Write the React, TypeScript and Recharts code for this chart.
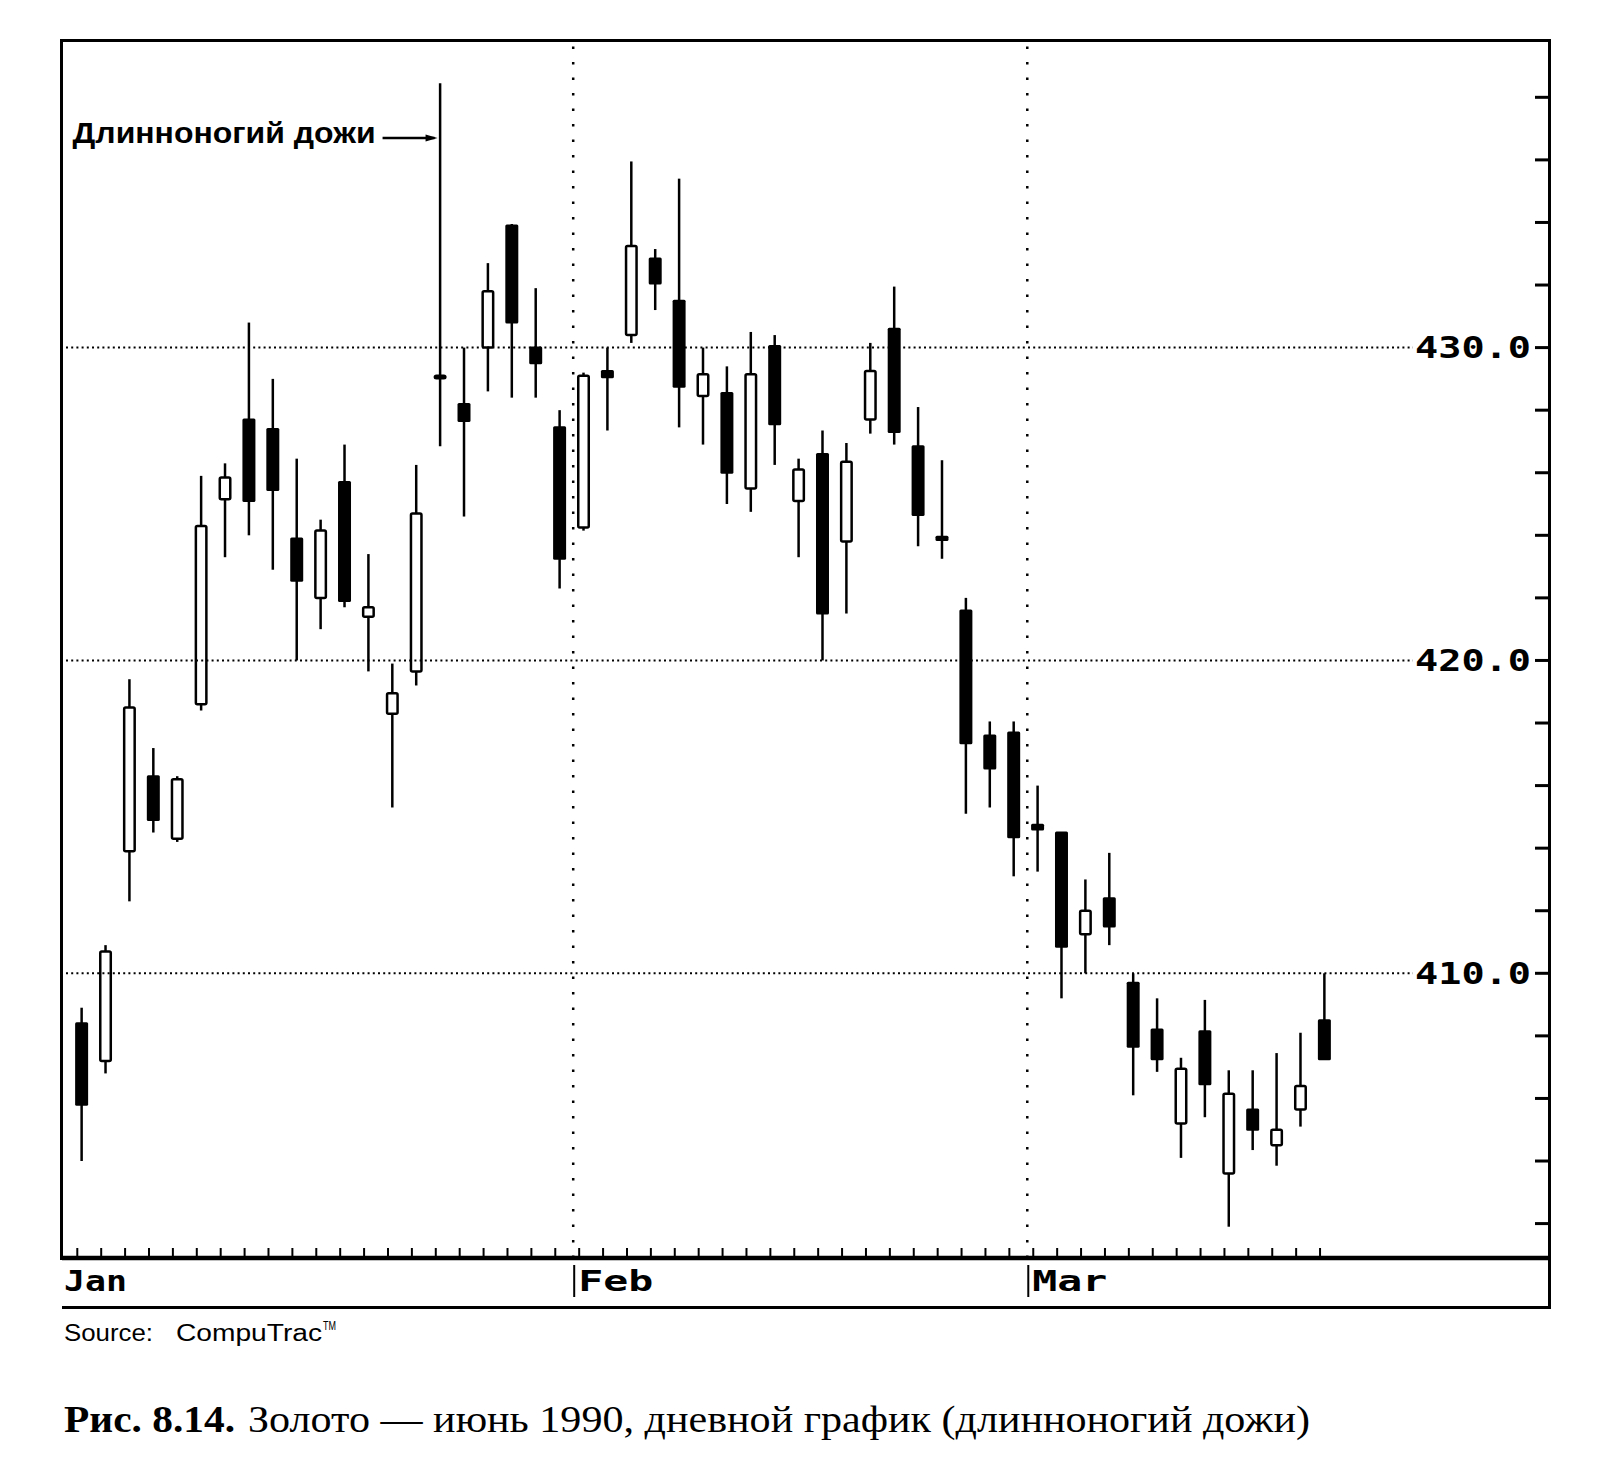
import React from 'react';
import { ComposedChart, Bar, XAxis, YAxis, ReferenceLine, ReferenceDot } from 'recharts';

// Gold, June 1990 futures, daily candles Jan 2 .. Mar 19
const OPEN = [
  408.4, 407.2, 413.9, 416.3, 414.3, 418.6, 425.15, 427.7, 427.4, 423.9,
  422.0, 425.7, 421.4, 418.3, 419.65, 429.05, 428.2, 430.0, 433.9, 430.0,
  427.45, 424.25, 429.25, 430.4, 432.85, 431.5, 428.45, 428.55, 425.5, 430.05,
  425.1, 426.6, 423.8, 427.7, 430.6, 426.85, 423.95, 421.6, 417.6, 417.7,
  414.75, 414.5, 411.25, 412.4, 409.7, 408.2, 405.2, 408.15, 403.6, 405.65,
  404.5, 405.65, 408.5,
];
const HIGH = [
  408.9, 410.9, 419.4, 417.2, 416.3, 425.9, 426.3, 430.8, 429.0, 426.45,
  424.5, 426.9, 423.4, 419.9, 426.25, 438.45, 430.0, 432.7, 433.95, 431.9,
  428.0, 429.2, 430.0, 435.95, 433.15, 435.4, 430.0, 429.4, 430.5, 430.4,
  426.45, 427.35, 426.95, 430.15, 431.95, 428.1, 426.4, 422.0, 418.05, 418.05,
  416.0, 414.5, 413.0, 413.85, 410.0, 409.2, 407.3, 409.15, 406.9, 406.9,
  407.45, 408.1, 410.0,
];
const LOW = [
  404.0, 406.8, 412.3, 414.5, 414.2, 418.4, 423.3, 424.0, 422.9, 420.0,
  421.0, 421.7, 419.65, 415.3, 419.2, 426.85, 424.6, 428.6, 428.4, 428.4,
  422.3, 424.15, 427.35, 430.15, 431.2, 427.45, 426.9, 425.0, 424.75, 426.25,
  423.3, 420.0, 421.5, 427.25, 426.9, 423.65, 423.25, 415.1, 415.3, 413.1,
  413.25, 409.2, 410.0, 410.9, 406.1, 406.85, 404.1, 405.4, 401.9, 404.35,
  403.85, 405.1, 407.25,
];
const CLOSE = [
  405.8, 410.7, 418.5, 414.9, 416.2, 424.3, 425.85, 425.1, 425.45, 422.55,
  424.15, 421.9, 421.7, 418.95, 424.7, 429.1, 427.65, 431.8, 430.8, 429.5,
  423.25, 429.1, 429.05, 433.25, 432.05, 428.75, 429.15, 426.0, 429.15, 427.55,
  426.1, 421.5, 426.35, 429.25, 427.3, 424.65, 423.85, 417.35, 416.55, 414.35,
  414.6, 410.85, 412.0, 411.5, 407.65, 407.25, 406.95, 406.45, 406.15, 405.0,
  405.0, 406.4, 407.25,
];

const MONTHS = ['Jan', 'Feb', 'Mar'];
const MONTH_FIRST_DAY = [0, 21, 40];
const PRICE_TICKS = [402, 404, 406, 408, 410, 412, 414, 416, 418, 420, 422, 424, 426, 428, 430, 432, 434, 436, 438];
const PRICE_LABELS = [410, 420, 430];
const NOTE_TEXT = 'Длинноногий дожи';
const NOTE_DAY = 15;
const NOTE_PRICE = 436.7;

const X_MIN = -0.84;
const X_MAX = 61.38;
const Y_MIN = 400.9;
const Y_MAX = 439.8;

const PLOT = { left: 62, top: 41, right: 1549, bottom: 1258 };

const data = OPEN.map((o, i) => ({
  day: i,
  open: o,
  high: HIGH[i],
  low: LOW[i],
  close: CLOSE[i],
}));
const dayTicks = data.map((d) => d.day - 0.2);

const BODY_W = 13;
const LINE_W = 2.5;

const Candle = (props: any) => {
  const { x, y, width, height, payload } = props;
  if (!payload || height == null) return null;
  const { open, close, high, low } = payload;
  const cx = x + width / 2;
  const k = high > low ? height / (high - low) : 0;
  const yOf = (v: number) => y + (high - v) * k;
  const top = yOf(Math.max(open, close));
  const bot = yOf(Math.min(open, close));
  const up = close >= open;
  const h = Math.max(bot - top, 2.5);
  return (
    <g>
      <line x1={cx} x2={cx} y1={y} y2={y + height} stroke="#000" strokeWidth={LINE_W} />
      {up ? (
        <rect x={cx - (BODY_W - LINE_W) / 2} y={top} width={BODY_W - LINE_W} height={h}
          fill="#fff" stroke="#000" strokeWidth={LINE_W} rx={1.5} />
      ) : (
        <rect x={cx - BODY_W / 2} y={top - 1} width={BODY_W} height={h + 2} fill="#000" rx={1.5} />
      )}
    </g>
  );
};

const DayTick = (p: any) => (
  <line x1={p.x} x2={p.x} y1={p.y - 1} y2={p.y - 10} stroke="#000" strokeWidth={2} />
);

const PriceTick = (p: any) => {
  const v = p.payload.value;
  if (!PRICE_LABELS.includes(v)) return null;
  return (
    <g>
      <line x1={PLOT.left + 4} x2={p.x - 118} y1={p.y} y2={p.y} stroke="#000"
        strokeWidth={2} strokeDasharray="2 3.2" />
      <text x={p.x} y={p.y + 10.5} textAnchor="end" textLength={116} lengthAdjust="spacingAndGlyphs"
        fontFamily="DejaVu Sans Mono" fontWeight={700} fontSize={30} fill="#000">
        {v.toFixed(1)}
      </text>
    </g>
  );
};

const monthLabel = (name: string, bar: boolean) => (props: any) => {
  const vb = props.viewBox;
  const x = vb.x;
  const base = vb.y + vb.height;
  return (
    <g>
      {bar && <line x1={x + 1} x2={x + 1} y1={base + 7} y2={base + 39} stroke="#000" strokeWidth={2} />}
      <text x={bar ? x + 5 : x + 2} y={base + 33} fontFamily="DejaVu Sans Mono" fontWeight={700}
        fontSize={29} textLength={bar ? 75 : 63} lengthAdjust="spacingAndGlyphs" fill="#000">
        {name}
      </text>
    </g>
  );
};

const noteLabel = (props: any) => {
  const vb = props.viewBox;
  const cx = vb.x + vb.width / 2;
  const cy = vb.y + vb.height / 2;
  return (
    <g>
      <line x1={cx - 58} x2={cx - 6} y1={cy} y2={cy} stroke="#000" strokeWidth={2.5} />
      <path d={`M${cx - 3},${cy} L${cx - 15},${cy - 3.5} L${cx - 15},${cy + 3.5} Z`} fill="#000" />
      <text x={cx - 65} y={cy + 5} textAnchor="end" textLength={303} lengthAdjust="spacingAndGlyphs"
        fontFamily="Liberation Sans" fontWeight={700} fontSize={29} fill="#000">
        {NOTE_TEXT}
      </text>
    </g>
  );
};

export default function App() {
  return (
    <div style={{ position: 'absolute', left: 0, top: 0, width: 1601, height: 1462, background: '#fff' }}>
      <div style={{ position: 'absolute', left: 0, top: 0 }}>
        <ComposedChart
          width={1601}
          height={1310}
          data={data}
          margin={{ top: PLOT.top, right: 1601 - PLOT.right, left: PLOT.left, bottom: 0 }}
        >
          <XAxis
            type="number"
            dataKey="day"
            domain={[X_MIN, X_MAX]}
            allowDataOverflow
            ticks={dayTicks}
            interval={0}
            height={1310 - PLOT.bottom}
            tickSize={0}
            tickMargin={0}
            tickLine={false}
            tick={<DayTick />}
            axisLine={{ stroke: '#000', strokeWidth: 4.5 }}
          />
          <YAxis
            type="number"
            orientation="right"
            mirror
            domain={[Y_MIN, Y_MAX]}
            allowDataOverflow
            ticks={PRICE_TICKS}
            interval={0}
            width={140}
            tickSize={14}
            tickMargin={4}
            tickLine={{ stroke: '#000', strokeWidth: 3 }}
            axisLine={false}
            tick={<PriceTick />}
          />
          {MONTHS.map((m, i) => (
            <ReferenceLine
              key={m}
              x={i === 0 ? X_MIN : MONTH_FIRST_DAY[i] - 0.45}
              stroke={i === 0 ? 'none' : '#000'}
              strokeWidth={2.5}
              strokeDasharray="2.5 13"
              label={monthLabel(m, i !== 0)}
            />
          ))}
          <Bar dataKey={(d: any) => [d.low, d.high]} barSize={BODY_W} shape={<Candle />} isAnimationActive={false} />
          <ReferenceDot x={NOTE_DAY} y={NOTE_PRICE} r={2} fill="none" stroke="none" label={noteLabel} />
        </ComposedChart>
      </div>
      <div style={{
        position: 'absolute', left: PLOT.left - 2, top: PLOT.top - 2,
        width: PLOT.right - PLOT.left + 4, height: PLOT.bottom - PLOT.top + 4,
        border: '3.5px solid #000', boxSizing: 'border-box', pointerEvents: 'none',
      }} />
      <div style={{
        position: 'absolute', left: PLOT.left, top: PLOT.bottom,
        width: PLOT.right - PLOT.left + 2, height: 51,
        borderRight: '3.5px solid #000', borderBottom: '3.5px solid #000', boxSizing: 'border-box',
      }} />
      <svg width={1601} height={1462} style={{ position: 'absolute', left: 0, top: 0, pointerEvents: 'none' }}>
        <text x={64} y={1341} fontFamily="Liberation Sans" fontSize={23} textLength={89} lengthAdjust="spacingAndGlyphs">Source:</text>
        <text x={176} y={1341} fontFamily="Liberation Sans" fontSize={23} textLength={146} lengthAdjust="spacingAndGlyphs">CompuTrac</text>
        <text x={323} y={1330} fontFamily="Liberation Sans" fontSize={13} textLength={13} lengthAdjust="spacingAndGlyphs">TM</text>
        <text x={64} y={1432} fontFamily="Liberation Serif" fontWeight={700} fontSize={37} textLength={171} lengthAdjust="spacingAndGlyphs">Рис. 8.14.</text>
        <text x={248} y={1432} fontFamily="Liberation Serif" fontSize={37} textLength={1062} lengthAdjust="spacingAndGlyphs">Золото — июнь 1990, дневной график (длинноногий дожи)</text>
      </svg>
    </div>
  );
}
